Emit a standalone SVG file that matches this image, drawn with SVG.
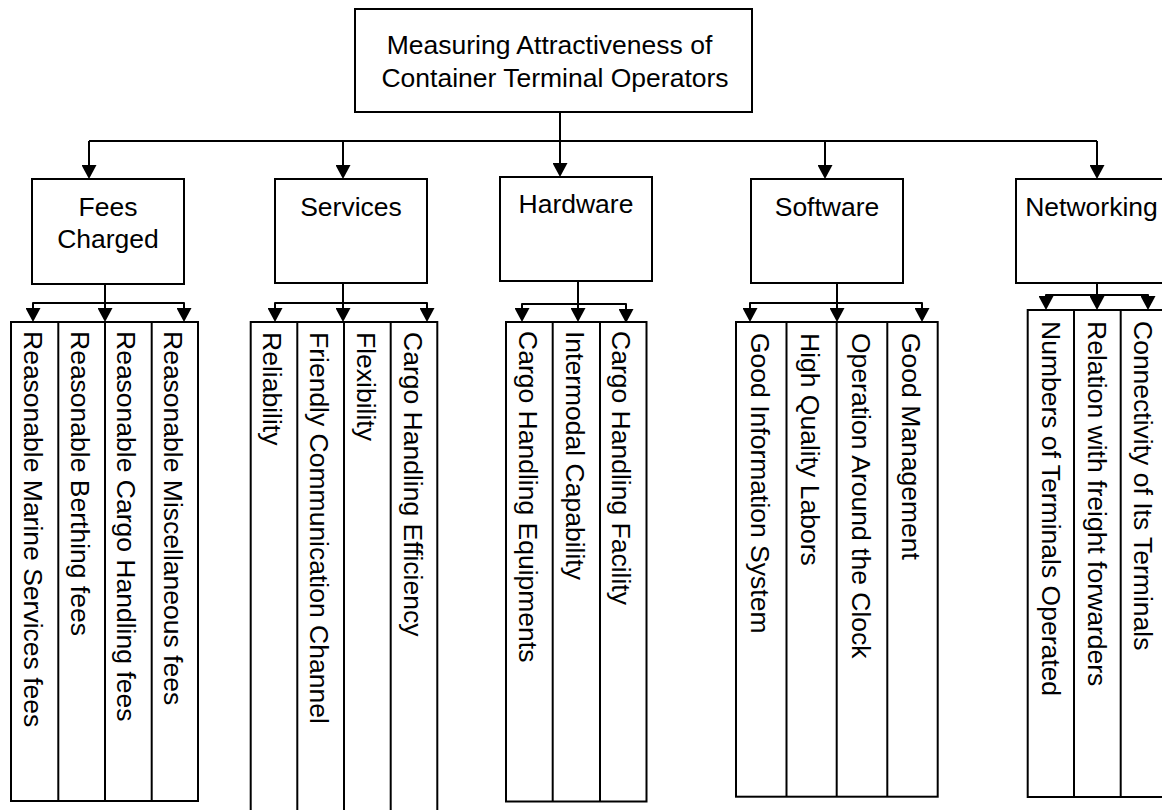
<svg xmlns="http://www.w3.org/2000/svg" width="1162" height="810" viewBox="0 0 1162 810">
<style>
.box{fill:#fff;stroke:#000;stroke-width:2}
.div{stroke:#000;stroke-width:2}
.t{font-family:'Liberation Sans',Arial,Helvetica,sans-serif;font-size:26.5px;fill:#000}
.m{text-anchor:middle}
.c{fill:none;stroke:#000;stroke-width:2;stroke-linejoin:round;marker-end:url(#ah)}
.c2{fill:none;stroke:#000;stroke-width:2;stroke-linejoin:round;marker-start:url(#ah);marker-end:url(#ah)}
.ln{fill:none;stroke:#000;stroke-width:2}
</style>
<defs>
<marker id="ah" markerUnits="userSpaceOnUse" viewBox="0 0 14 15" markerWidth="14" markerHeight="15" refX="10" refY="7.5" orient="auto-start-reverse">
<path d="M0,0 L14,7.5 L0,15 Z" fill="#000"/>
</marker>
</defs>
<rect width="1162" height="810" fill="#fff"/>

<g id="connectors">
<path class="ln" d="M89,141 H1097"/>
<path class="c" d="M89,141 V175"/>
<path class="c" d="M343,141 V175"/>
<path class="c" d="M560,112 V173"/>
<path class="c" d="M825,141 V175"/>
<path class="c" d="M1097,141 V175"/>

<path class="c" d="M105,284 V318"/>
<path class="c2" d="M33,318 V303 H184 V318"/>

<path class="c" d="M343,283 V318"/>
<path class="c2" d="M275,318 V303 H427 V318"/>

<path class="c" d="M578,281 V318"/>
<path class="c2" d="M522,318 V304 H626 V319"/>

<path class="c" d="M837,283 V318"/>
<path class="c2" d="M750,318 V303 H922 V318"/>

<path class="c" d="M1097,283 V306"/>
<path class="c2" d="M1046,306 V295 H1148 V306"/>
</g>

<g id="root">
<rect class="box" x="355" y="9" width="397" height="103"/>
<text class="t m" x="549.5" y="54">Measuring Attractiveness of</text>
<text class="t m" x="555" y="87">Container Terminal Operators</text>
</g>

<g id="fees">
<rect class="box" x="32" y="179" width="152" height="105"/>
<text class="t m" x="108" y="216">Fees</text>
<text class="t m" x="108" y="248">Charged</text>
</g>
<g id="services">
<rect class="box" x="275" y="179" width="152" height="104"/>
<text class="t m" x="351" y="216">Services</text>
</g>
<g id="hardware">
<rect class="box" x="500" y="177" width="152" height="104"/>
<text class="t m" x="576" y="213">Hardware</text>
</g>
<g id="software">
<rect class="box" x="751" y="179" width="152" height="104"/>
<text class="t m" x="827" y="216">Software</text>
</g>
<g id="networking">
<rect class="box" x="1016" y="179" width="152" height="104"/>
<text class="t m" x="1091.5" y="216">Networking</text>
</g>

<g id="fees-items">
<rect class="box" x="11" y="322" width="187" height="479"/>
<line class="div" x1="58.3" y1="322" x2="58.3" y2="801"/>
<line class="div" x1="105" y1="322" x2="105" y2="801"/>
<line class="div" x1="151.7" y1="322" x2="151.7" y2="801"/>
<text class="t" transform="translate(23.5,331) rotate(90)">Reasonable Marine Services fees</text>
<text class="t" transform="translate(70.5,331) rotate(90)">Reasonable Berthing fees</text>
<text class="t" transform="translate(117,331) rotate(90)">Reasonable Cargo Handling fees</text>
<text class="t" transform="translate(163.5,331) rotate(90)">Reasonable Miscellaneous fees</text>
</g>

<g id="services-items">
<rect class="box" x="250.7" y="322" width="186.6" height="500"/>
<line class="div" x1="297.3" y1="322" x2="297.3" y2="822"/>
<line class="div" x1="344" y1="322" x2="344" y2="822"/>
<line class="div" x1="390.7" y1="322" x2="390.7" y2="822"/>
<text class="t" transform="translate(263,332) rotate(90)">Reliability</text>
<text class="t" transform="translate(310,332) rotate(90)">Friendly Communication Channel</text>
<text class="t" transform="translate(356.5,332) rotate(90)">Flexibility</text>
<text class="t" transform="translate(403.5,332) rotate(90)">Cargo Handling Efficiency</text>
</g>

<g id="hardware-items">
<rect class="box" x="506" y="322" width="140.5" height="479.5"/>
<line class="div" x1="552.7" y1="322" x2="552.7" y2="801.5"/>
<line class="div" x1="600" y1="322" x2="600" y2="801.5"/>
<text class="t" transform="translate(518.5,331) rotate(90)">Cargo Handling Equipments</text>
<text class="t" transform="translate(566,331) rotate(90)">Intermodal Capability</text>
<text class="t" transform="translate(612,331) rotate(90)">Cargo Handling Facility</text>
</g>

<g id="software-items">
<rect class="box" x="736" y="322" width="201.7" height="474.7"/>
<line class="div" x1="786.5" y1="322" x2="786.5" y2="796.7"/>
<line class="div" x1="836.7" y1="322" x2="836.7" y2="796.7"/>
<line class="div" x1="887.3" y1="322" x2="887.3" y2="796.7"/>
<text class="t" transform="translate(750.5,333) rotate(90)">Good Information System</text>
<text class="t" transform="translate(801,333) rotate(90)">High Quality Labors</text>
<text class="t" transform="translate(851.5,333) rotate(90)">Operation Around the Clock</text>
<text class="t" transform="translate(902,333) rotate(90)">Good Management</text>
</g>

<g id="networking-items">
<rect class="box" x="1027.7" y="310" width="140" height="487"/>
<line class="div" x1="1074" y1="310" x2="1074" y2="797"/>
<line class="div" x1="1120.7" y1="310" x2="1120.7" y2="797"/>
<text class="t" transform="translate(1041.5,321) rotate(90)">Numbers of Terminals Operated</text>
<text class="t" transform="translate(1088,321) rotate(90)">Relation with freight forwarders</text>
<text class="t" transform="translate(1134,321) rotate(90)">Connectivity of Its Terminals</text>
</g>
</svg>
